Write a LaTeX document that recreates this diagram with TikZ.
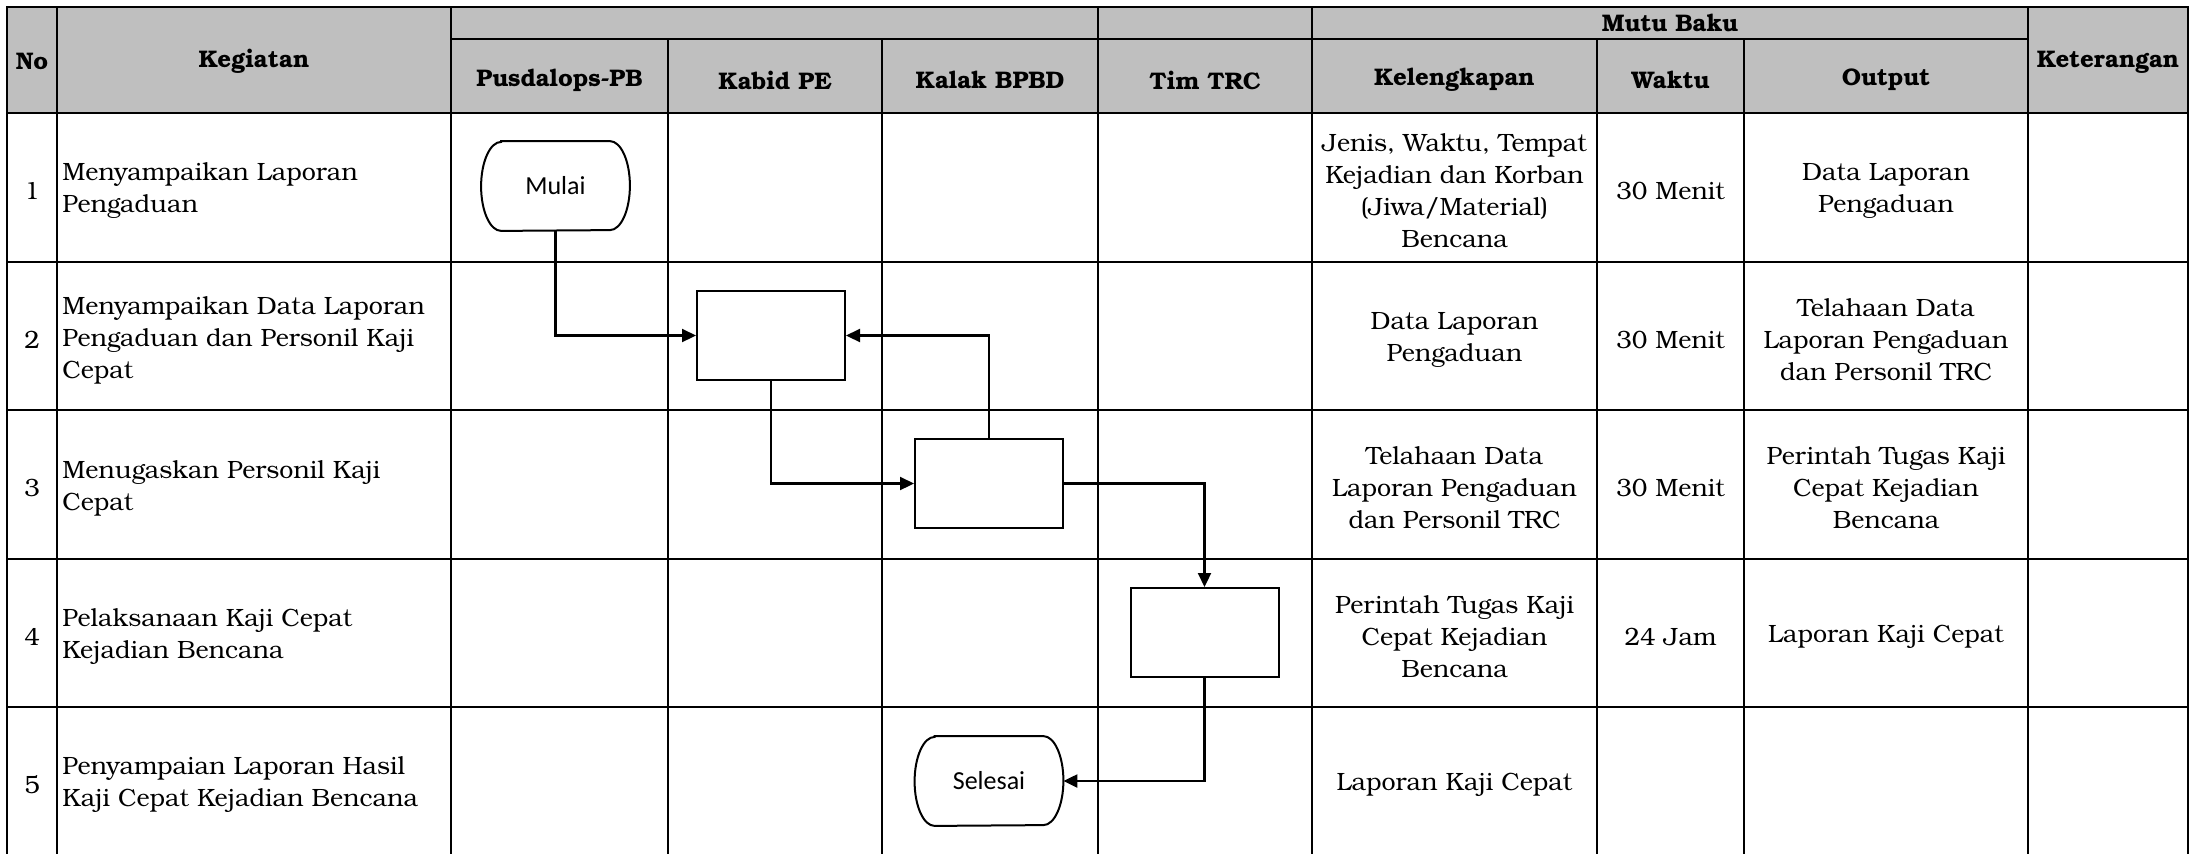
\documentclass[tikz,border=0pt]{standalone}
\usepackage{fontspec}
\setmainfont{TeX Gyre Bonum}
\newfontfamily\flowfont{Carlito}
\usetikzlibrary{arrows.meta}
\definecolor{headgray}{RGB}{191,191,191}

\begin{document}
\begin{tikzpicture}[x=0.5pt,y=-0.5pt,>={Triangle[length=7pt,width=6.5pt]},
  grid/.style={line width=1.4pt,line cap=rect},
  head/.style={font=\fontsize{12}{14}\selectfont\bfseries,inner sep=0pt},
  cell/.style={align=center,inner sep=0pt,font=\fontsize{12.5}{16}\selectfont},
  act/.style={align=left,anchor=west,inner sep=0pt,font=\fontsize{12.5}{16}\selectfont},
  proc/.style={draw,line width=1pt,minimum width=74pt,minimum height=44.5pt,inner sep=0pt},
  term/.style={minimum width=74pt,minimum height=44.5pt,inner sep=0pt,font=\flowfont\fontsize{13}{15}\selectfont},
  flow/.style={->,line width=1.1pt}]
  \useasboundingbox (0,0) rectangle (2196,853);

  % header
  \fill[headgray] (7,7) rectangle (2188,113);
  \draw[grid] (7,7) -- (2188,7);
  \draw[grid] (451,39) -- (2028,39);
  \draw[grid] (7,113) -- (2188,113);
  \foreach \y in {262,410,559,707}
    \draw[grid] (7,\y) -- (2188,\y);
  \foreach \x in {7,57,451,1098,1312,2028,2188}
    \draw[grid] (\x,7) -- (\x,860);
  \foreach \x in {668,882,1597,1744}
    \draw[grid] (\x,39) -- (\x,860);

  \node[head] (hNo) at (32,61) {No};
  \node[head] (hKeg) at (254,61) {Kegiatan};
  \node[head] (hMutu) at (1670,23) {Mutu Baku};
  \node[head] (hKet) at (2108,62) {Keterangan};
  \node[head] (hPus) at (559.5,80) {Pusdalops-PB};
  \node[head] (hKab) at (775,80) {Kabid PE};
  \node[head] (hKal) at (990,80) {Kalak BPBD};
  \node[head] (hTim) at (1205,80) {Tim TRC};
  \node[head] (hKel) at (1454.5,80) {Kelengkapan};
  \node[head] (hWak) at (1670.5,80) {Waktu};
  \node[head] (hOut) at (1886,80) {Output};

  % rows
  \foreach \n/\y in {1/191,2/340,3/488,4/637,5/785}
    \node[cell] (no\n) at (32,\y) {\n};
  \node[act] (keg1) at (62,191) {Menyampaikan Laporan\\Pengaduan};
  \node[act] (keg2) at (62,340) {Menyampaikan Data Laporan\\Pengaduan dan Personil Kaji\\Cepat};
  \node[act] (keg3) at (62,488) {Menugaskan Personil Kaji\\Cepat};
  \node[act] (keg4) at (62,637) {Pelaksanaan Kaji Cepat\\Kejadian Bencana};
  \node[act] (keg5) at (62,785) {Penyampaian Laporan Hasil\\Kaji Cepat Kejadian Bencana};

  \node[cell] (kel1) at (1454.5,191) {Jenis, Waktu, Tempat\\Kejadian dan Korban\\(Jiwa/Material)\\Bencana};
  \node[cell] (kel2) at (1454.5,340) {Data Laporan\\Pengaduan};
  \node[cell] (kel3) at (1454.5,488) {Telahaan Data\\Laporan Pengaduan\\dan Personil TRC};
  \node[cell] (kel4) at (1454.5,637) {Perintah Tugas Kaji\\Cepat Kejadian\\Bencana};
  \node[cell] (kel5) at (1454.5,785) {Laporan Kaji Cepat};

  \node[cell] (wak1) at (1670.5,191) {30 Menit};
  \node[cell] (wak2) at (1670.5,340) {30 Menit};
  \node[cell] (wak3) at (1670.5,488) {30 Menit};
  \node[cell] (wak4) at (1670.5,637) {24 Jam};

  \node[cell] (out1) at (1886,191) {Data Laporan\\Pengaduan};
  \node[cell] (out2) at (1886,340) {Telahaan Data\\Laporan Pengaduan\\dan Personil TRC};
  \node[cell] (out3) at (1886,488) {Perintah Tugas Kaji\\Cepat Kejadian\\Bencana};
  \node[cell] (out4) at (1886,637) {Laporan Kaji Cepat};

  % flow
  \node[term] (mulai) at (555.5,186) {Mulai};
  \node[proc] (kabid) at (771,335.5) {};
  \node[proc] (kalak) at (989,483.5) {};
  \node[proc] (trc) at (1204.5,632.5) {};
  \node[term] (selesai) at (989,781) {Selesai};
  \foreach \t in {mulai,selesai}
    \draw[line width=1pt] ([xshift=10pt]\t.north west) -- ([xshift=-10pt]\t.north east)
      arc[start angle=90,end angle=-90,x radius=10pt,y radius=22.25pt]
      -- ([xshift=10pt]\t.south west)
      arc[start angle=270,end angle=90,x radius=10pt,y radius=22.25pt] -- cycle;

  \draw[flow] (mulai) |- (kabid);
  \draw[flow] (kabid) |- (kalak);
  \draw[flow] (kalak) |- (kabid);
  \draw[flow] (kalak) -| (trc);
  \draw[flow] (trc) |- (selesai);
\end{tikzpicture}
\end{document}
